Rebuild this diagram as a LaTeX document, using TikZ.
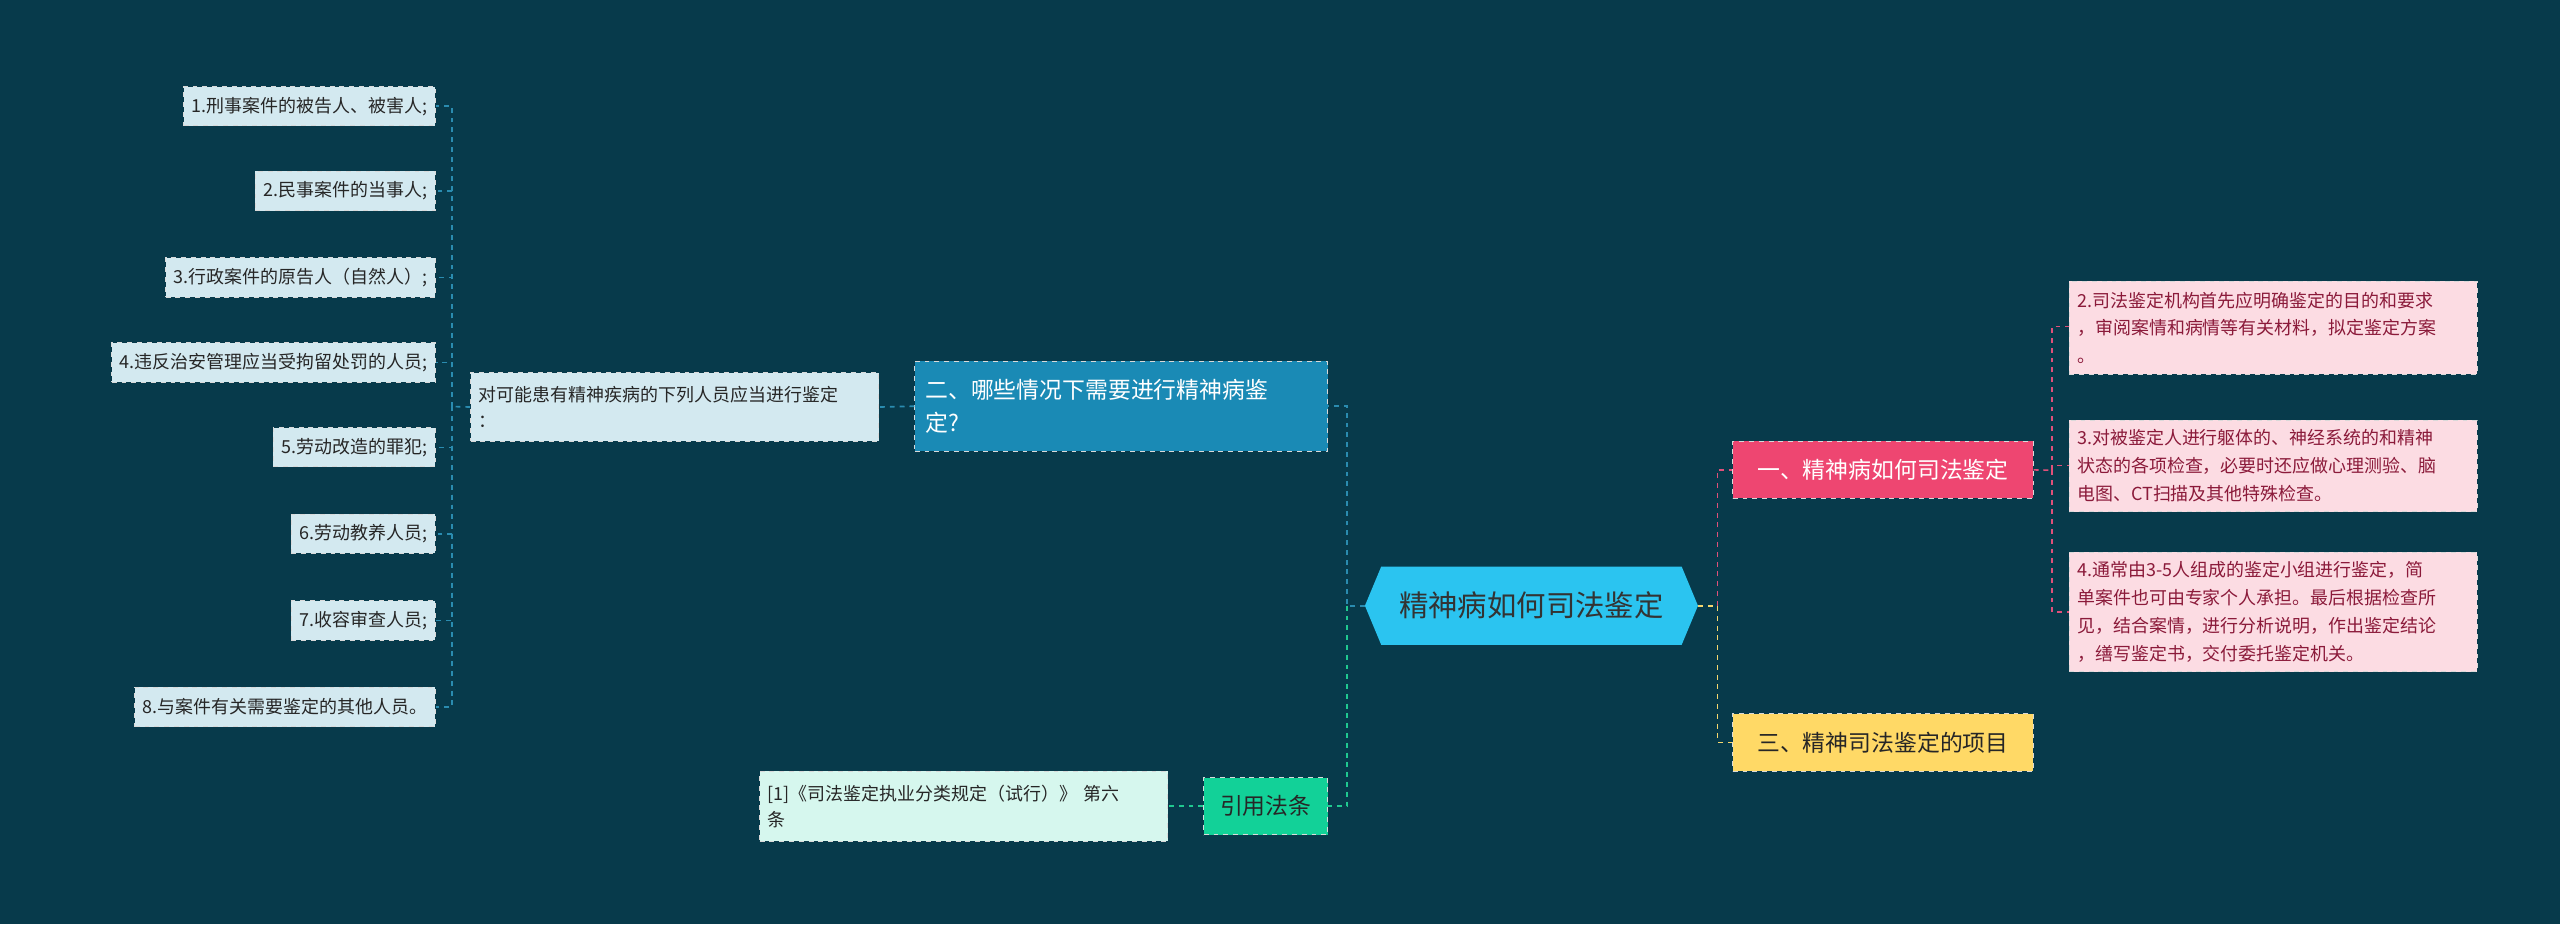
\documentclass[tikz,border=0pt]{standalone}
\usepackage{fontspec}
\setmainfont{Noto Sans CJK SC}
\definecolor{bg}{HTML}{073A4B}
\definecolor{rootc}{HTML}{2BC4F0}
\definecolor{onec}{HTML}{EE4671}
\definecolor{threec}{HTML}{FFD966}
\definecolor{twoc}{HTML}{1A8AB5}
\definecolor{lawc}{HTML}{12D198}
\definecolor{pinkl}{HTML}{FCDCE3}
\definecolor{bluel}{HTML}{D3E9F0}
\definecolor{greenl}{HTML}{D6F7EE}
\definecolor{pinktxt}{HTML}{8B1A3A}
\definecolor{lpink}{HTML}{E0507A}
\definecolor{lyel}{HTML}{F5D76E}
\definecolor{lblue}{HTML}{2A8CB0}
\definecolor{lgreen}{HTML}{20C990}
\begin{document}
\begin{tikzpicture}[x=1pt,y=-1pt,
  box/.style={draw=white!70!gray,dashed,line width=0.6pt,inner sep=0pt,align=left,anchor=north west},
  leafr/.style={box,fill=pinkl,text=pinktxt,font=\fontsize{11}{17}\selectfont},
  leafb/.style={box,fill=bluel,text=black!85,font=\fontsize{11}{16}\selectfont},
  conn/.style={dashed,line width=1pt}]
\fill[bg] (0,0) rectangle (1568,566);
\useasboundingbox (0,0) rectangle (1568,566);
% root
\fill[rootc] (836,371)--(846,347)--(1030,347)--(1040,371)--(1030,395)--(846,395)--cycle;
\node[minimum width=204pt,minimum height=48pt,inner sep=0pt,font=\fontsize{18}{20}\selectfont,text=black!80] (root) at (938,371) {精神病如何司法鉴定};
% main branches
\node[box,fill=onec,text=white,minimum width=184pt,minimum height=35pt,align=center,font=\fontsize{14}{16}\selectfont] (one) at (1061,270) {一、精神病如何司法鉴定};
\node[box,fill=threec,text=black!85,minimum width=184pt,minimum height=35pt,align=center,font=\fontsize{14}{16}\selectfont] (three) at (1061,437) {三、精神司法鉴定的项目};
\node[box,fill=twoc,text=white,minimum width=253pt,minimum height=55pt,text width=240pt,inner xsep=6pt,font=\fontsize{14}{20}\selectfont] (two) at (560,221) {二、哪些情况下需要进行精神病鉴\\定?};
\node[box,fill=lawc,text=black!85,minimum width=76pt,minimum height=35pt,align=center,font=\fontsize{14}{16}\selectfont] (law) at (737,476) {引用法条};
% right leaves
\node[leafr,minimum width=250pt,minimum height=57pt,text width=240pt,inner xsep=5pt] (r2) at (1267,172) {2.司法鉴定机构首先应明确鉴定的目的和要求\\，审阅案情和病情等有关材料，拟定鉴定方案\\。};
\node[leafr,minimum width=250pt,minimum height=56pt,text width=240pt,inner xsep=5pt] (r3) at (1267,257) {3.对被鉴定人进行躯体的、神经系统的和精神\\状态的各项检查，必要时还应做心理测验、脑\\电图、CT扫描及其他特殊检查。};
\node[leafr,minimum width=250pt,minimum height=73pt,text width=240pt,inner xsep=5pt] (r4) at (1267,338) {4.通常由3-5人组成的鉴定小组进行鉴定，简\\单案件也可由专家个人承担。最后根据检查所\\见，结合案情，进行分析说明，作出鉴定结论\\，缮写鉴定书，交付委托鉴定机关。};
% left
\node[leafb,minimum width=250pt,minimum height=42pt,text width=240pt,inner xsep=5pt] (mid) at (288,228) {对可能患有精神疾病的下列人员应当进行鉴定\\：};
\node[box,fill=greenl,text=black!85,font=\fontsize{11}{16}\selectfont,minimum width=250pt,minimum height=43pt,text width=240pt,inner xsep=5pt] (ref) at (465,472) {[1]《司法鉴定执业分类规定（试行）》 第六\\条};
\foreach \t/\y [count=\i] in {1.刑事案件的被告人、被害人;/65,2.民事案件的当事人;/117,3.行政案件的原告人（自然人）;/170,4.违反治安管理应当受拘留处罚的人员;/222,5.劳动改造的罪犯;/274,6.劳动教养人员;/327,7.收容审查人员;/380,8.与案件有关需要鉴定的其他人员。/433}{
  \node[leafb,anchor=east,minimum height=24pt,inner xsep=5pt] (l\i) at (267,\y) {\t};
}
% connectors
\coordinate (rl) at (825,371);
\coordinate (rr) at (1052,371);
\coordinate (oj) at (1257,288);
\coordinate (lj) at (277,249);
\draw[conn,lblue] (root.west)--(rl)--(rl|-two.east)--(two.east);
\draw[conn,lgreen] (rl)--(rl|-law.east)--(law.east);
\draw[conn,lyel] (root.east)--(rr)--(rr|-three.west)--(three.west);
\draw[conn,lpink] (rr)--(rr|-one.west)--(one.west);
\draw[conn,lpink] (one.east)--(oj);
\foreach \n/\y in {r2/200,r3/285,r4/375}{\draw[conn,lpink] (oj)--(1257,\y)--(1267,\y);}
\draw[conn,lblue] (two.west)--(mid.east);
\draw[conn,lblue] (mid.west)--(lj);
\foreach \i in {1,...,8}{\draw[conn,lblue] (lj)--(lj|-l\i.east)--(l\i.east);}
\draw[conn,lgreen] (law.west)--(ref.east);
\end{tikzpicture}
\end{document}
